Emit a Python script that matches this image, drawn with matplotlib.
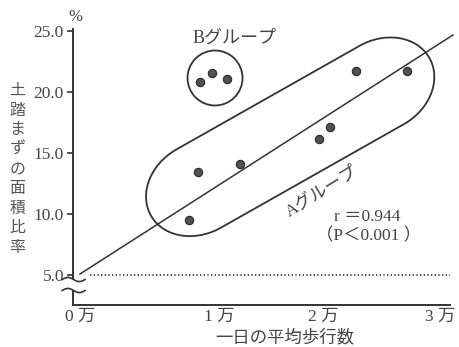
import numpy as np
import matplotlib
matplotlib.use("Agg")
import matplotlib.pyplot as plt
from matplotlib import transforms as mt
from matplotlib.patches import Circle, Polygon

# ---------------- data ----------------
a_steps = [0.97, 1.04, 1.39, 2.05, 2.14, 2.36, 2.78]      # 万歩
a_ratio = [9.49, 13.40, 14.05, 16.15, 17.11, 21.69, 21.69]  # %
b_steps = [1.06, 1.16, 1.28]
b_ratio = [20.77, 21.50, 21.01]
fit_slope = 6.295
fit_intercept = 4.705
fit_x_range = [0.058, 3.167]
ref_level = 5.0
ref_x_range = [0.142, 3.158]
x_ticks = [0, 1, 2, 3]
x_tick_labels = ["0 万", "1 万", "2 万", "3 万"]
y_ticks = [5, 10, 15, 20, 25]
y_tick_labels = ["5.0", "10.0", "15.0", "20.0", "25.0"]
ylabel_chars = list("土踏まずの面積比率")
xlabel_text = "一日の平均歩行数"
r_text = "r ＝0.944"
p_text = "（P＜0.001 ）"
group_a = "Aグループ"
group_b = "Bグループ"

# ---------------- style ----------------
INK = "#333333"
TXT = "#444444"
FAM = ["Liberation Serif", "Noto Sans CJK JP", "DejaVu Sans"]
JFAM = ["Noto Sans CJK JP", "DejaVu Sans"]
plt.rcParams["font.family"] = FAM

W, H = 459, 347
fig = plt.figure(figsize=(W / 100, H / 100), dpi=100)
fig.patch.set_facecolor("white")
ax = fig.add_axes([73 / W, (H - 305) / H, (450 - 73) / W, (305 - 29) / H])
ax.set_xlim(0, 3.142)
ax.set_ylim(2.534, 25.13)
ax.set_facecolor("white")
for s in ("top", "right"):
    ax.spines[s].set_visible(False)
for s in ("left", "bottom"):
    ax.spines[s].set_linewidth(1.4)
    ax.spines[s].set_color(INK)

ax.set_yticks(y_ticks)
ax.set_yticklabels(y_tick_labels)
ax.tick_params(axis="y", direction="out", length=4, width=1.2, color=INK,
               pad=2.5, labelsize=12.5, labelcolor=TXT)
ax.set_xticks(x_ticks)
ax.set_xticklabels(x_tick_labels)
ax.tick_params(axis="x", length=0, pad=3, labelsize=12.5, labelcolor=TXT)
x_label_shift_px = [7, 26, 10, 7]
for lab, dx in zip(ax.get_xticklabels(), x_label_shift_px):
    lab.set_transform(lab.get_transform() + mt.ScaledTranslation(dx / 100, 0, fig.dpi_scale_trans))

# regression line
xs = np.array(fit_x_range)
ax.plot(xs, fit_intercept + fit_slope * xs, color=INK, lw=1.1, clip_on=False, zorder=3)
# reference dotted line
ax.plot(ref_x_range, [ref_level, ref_level], color=INK, lw=1.2,
        linestyle=(0, (0.8, 1.4)), zorder=2)

# points
ax.plot(a_steps, a_ratio, "o", ms=6, mfc="#505050", mec="#2a2a2a", mew=0.8, zorder=5)
ax.plot(b_steps, b_ratio, "o", ms=6, mfc="#505050", mec="#2a2a2a", mew=0.8, zorder=5)

# group outlines (drawn in inches around a data-anchored centre)
def anchored(cx, cy, angle=0):
    return (mt.Affine2D().rotate_deg(angle) + fig.dpi_scale_trans
            + mt.ScaledTranslation(cx, cy, ax.transData))

ax.add_patch(Circle((0, 0), radius=0.275, fill=False, lw=1.3, ec=INK,
                    transform=anchored(np.mean(b_steps) + 0.017, 21.12), clip_on=False))

L, c, r = 1.05, 0.55, 0.45
t1 = np.linspace(-np.pi / 2, np.pi / 2, 80)
t2 = np.linspace(np.pi / 2, 3 * np.pi / 2, 80)
u = np.concatenate([L + c * np.cos(t1), -L + c * np.cos(t2)])
v = np.concatenate([r * np.sin(t1), r * np.sin(t2)])
ax.add_patch(Polygon(np.column_stack([u, v]), closed=True, fill=False, lw=1.3, ec=INK,
                     transform=anchored(1.81, 16.305, 29.5), clip_on=False))

# axis break marks
tt = np.linspace(0, 1, 60)
wx = -0.09 + 0.19 * tt
amp = 0.17
up = 4.62 + amp * np.sin(2 * np.pi * tt)
lo = 3.72 + amp * np.sin(2 * np.pi * tt)
ax.fill_between(wx, lo, up, color="white", zorder=3.5, clip_on=False, lw=0)
ax.plot(wx, up, color=INK, lw=1.2, clip_on=False, zorder=4)
ax.plot(wx, lo, color=INK, lw=1.2, clip_on=False, zorder=4)

# texts
ax.text(0.017, 26.15, "%", ha="center", va="center", fontsize=12, color=TXT, clip_on=False)
ax.text(1.35, 24.35, group_b, ha="center", va="center", fontsize=13, color=TXT)
ax.text(2.075, 11.79, group_a, ha="center", va="center", fontsize=12.5, color=TXT,
        rotation=31.5, rotation_mode="anchor")
ax.text(2.454, 9.70, r_text, ha="center", va="center", fontsize=12.5, color=TXT)
ax.text(2.467, 8.14, p_text, ha="center", va="center", fontsize=12.5, color=TXT)
ax.text(1.767, -0.118, xlabel_text, ha="center", va="center", fontsize=12.5, color=TXT,
        family=JFAM, transform=mt.blended_transform_factory(ax.transData, ax.transAxes))

y0, pitch = 90.5, 19.6
for i, ch in enumerate(ylabel_chars):
    fig.text(17.5 / W, 1 - (y0 + i * pitch) / H, ch, ha="center", va="center",
             fontsize=11.5, color="#555555", family=JFAM)

fig.savefig("out.png", dpi=100, facecolor="white")
